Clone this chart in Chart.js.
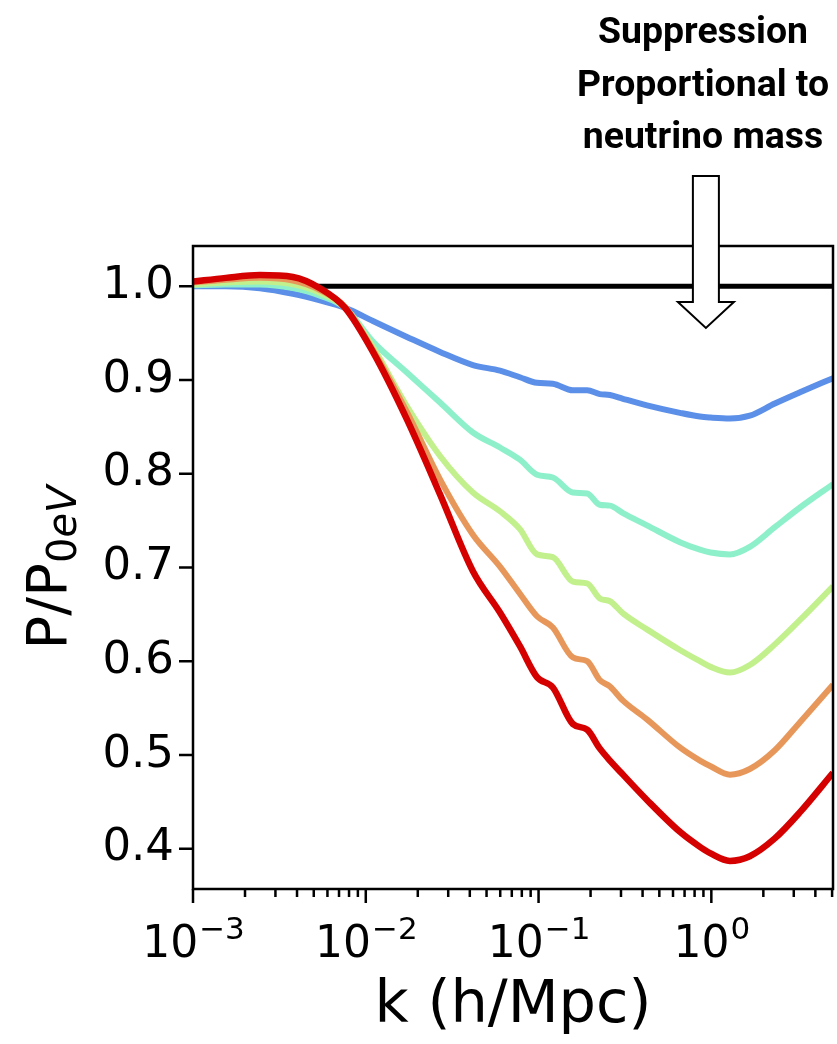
<!DOCTYPE html>
<html lang="en">
<head>
  <meta charset="UTF-8">
  <title>Power spectrum suppression by neutrino mass</title>
  <script src="https://cdn.jsdelivr.net/npm/chart.js"></script>
  <style>
    html, body { margin: 0; padding: 0; background: #fff; }
    #wrap { width: 837px; height: 1044px; }
  </style>
</head>
<body>
  <div id="wrap"><canvas id="ratioChart" width="837" height="1044"></canvas></div>
  <script>
    // k grid (h/Mpc)
    const kValues = [0.001, 0.00155, 0.00244, 0.00379, 0.00543, 0.00759, 0.0110, 0.0173, 0.0269, 0.0417,
      0.0598, 0.0780, 0.0979, 0.121, 0.158, 0.191, 0.226, 0.259, 0.308, 0.424,
      0.658, 0.859, 0.99, 1.28, 1.67, 2.33, 3.26, 5.06];

    // P/P_0eV for increasing neutrino mass (blue -> red)
    const ratioBlue = [1.000, 1.000, 0.998, 0.992, 0.985, 0.977, 0.963, 0.946, 0.930, 0.916,
      0.910, 0.903, 0.897, 0.896, 0.889, 0.889, 0.885, 0.884, 0.880, 0.873,
      0.865, 0.861, 0.860, 0.859, 0.862, 0.875, 0.887, 0.902];
    const ratioTeal = [1.001, 1.002, 1.002, 0.998, 0.990, 0.977, 0.941, 0.908, 0.876, 0.844,
      0.828, 0.815, 0.799, 0.796, 0.780, 0.779, 0.767, 0.766, 0.758, 0.745,
      0.727, 0.719, 0.716, 0.714, 0.722, 0.743, 0.764, 0.789];
    const ratioGreen = [1.002, 1.004, 1.005, 1.002, 0.993, 0.977, 0.935, 0.872, 0.819, 0.780,
      0.760, 0.741, 0.714, 0.711, 0.685, 0.683, 0.667, 0.664, 0.651, 0.634,
      0.612, 0.600, 0.594, 0.588, 0.596, 0.618, 0.644, 0.680];
    const ratioOrange = [1.004, 1.007, 1.009, 1.006, 0.996, 0.978, 0.932, 0.866, 0.794, 0.735,
      0.701, 0.672, 0.648, 0.636, 0.604, 0.600, 0.580, 0.573, 0.558, 0.538,
      0.508, 0.494, 0.488, 0.479, 0.485, 0.505, 0.535, 0.575];
    const ratioRed = [1.005, 1.009, 1.012, 1.010, 0.998, 0.977, 0.930, 0.858, 0.778, 0.696,
      0.652, 0.616, 0.583, 0.572, 0.533, 0.527, 0.507, 0.494, 0.479, 0.452,
      0.418, 0.402, 0.395, 0.387, 0.392, 0.411, 0.439, 0.481];

    // the massless reference line
    const refK = [0.001, 5.06];
    const refRatio = [1.0, 1.0];

    const xMajorTicks = [0.001, 0.01, 0.1, 1];
    const xMajorExponents = ['\u22123', '\u22122', '\u22121', '0'];
    const xMinorTicks = [0.002, 0.003, 0.004, 0.005, 0.006, 0.007, 0.008, 0.009,
      0.02, 0.03, 0.04, 0.05, 0.06, 0.07, 0.08, 0.09,
      0.2, 0.3, 0.4, 0.5, 0.6, 0.7, 0.8, 0.9,
      2, 3, 4, 5];
    const yTicks = [0.4, 0.5, 0.6, 0.7, 0.8, 0.9, 1.0];

    const noteLines = ['Suppression', 'Proportional to', 'neutrino mass'];
    const arrowK = 0.93;

    const toPoints = (ks, vs) => ks.map((k, i) => ({ x: k, y: vs[i] }));

    function curve(data, color, width) {
      return {
        data: data,
        borderColor: color,
        borderWidth: width,
        pointRadius: 0,
        fill: false,
        cubicInterpolationMode: 'monotone'
      };
    }

    // ticks, frame, x labels, y title and the annotation are drawn on top
    const overlay = {
      id: 'overlay',
      afterDraw(chart) {
        const { ctx, chartArea: a, scales: { x, y } } = chart;
        ctx.save();

        // frame
        ctx.strokeStyle = '#000';
        ctx.lineWidth = 2.5;
        ctx.strokeRect(a.left, a.top, a.right - a.left, a.bottom - a.top);

        // tick marks
        ctx.beginPath();
        xMajorTicks.forEach(v => {
          const px = x.getPixelForValue(v);
          ctx.moveTo(px, a.bottom); ctx.lineTo(px, a.bottom + 14);
        });
        xMinorTicks.forEach(v => {
          const px = x.getPixelForValue(v);
          ctx.moveTo(px, a.bottom); ctx.lineTo(px, a.bottom + 8);
        });
        yTicks.forEach(v => {
          const py = y.getPixelForValue(v);
          ctx.moveTo(a.left, py); ctx.lineTo(a.left - 14, py);
        });
        ctx.stroke();

        // x tick labels 10^n
        ctx.fillStyle = '#000';
        ctx.textAlign = 'left';
        ctx.textBaseline = 'alphabetic';
        xMajorTicks.forEach((v, i) => {
          const px = x.getPixelForValue(v);
          ctx.font = '44px "DejaVu Sans"';
          const wb = ctx.measureText('10').width;
          ctx.font = '31px "DejaVu Sans"';
          const we = ctx.measureText(xMajorExponents[i]).width;
          const left = px - (wb + we) / 2;
          ctx.font = '44px "DejaVu Sans"';
          ctx.fillText('10', left, a.bottom + 68);
          ctx.font = '31px "DejaVu Sans"';
          ctx.fillText(xMajorExponents[i], left + wb + 1, a.bottom + 50);
        });

        // y title P/P_0eV
        ctx.save();
        ctx.translate(46, (a.top + a.bottom) / 2);
        ctx.rotate(-Math.PI / 2);
        const big = '56px "DejaVu Sans"';
        const sub0 = '40px "DejaVu Sans"';
        const subIt = 'oblique 40px "DejaVu Sans"';
        ctx.font = big; const wMain = ctx.measureText('P/P').width;
        ctx.font = sub0; const w0 = ctx.measureText('0').width;
        ctx.font = subIt; const wEv = ctx.measureText('eV').width;
        let tx = -(wMain + w0 + wEv) / 2;
        const base = 20;
        ctx.font = big; ctx.fillText('P/P', tx, base); tx += wMain;
        ctx.font = sub0; ctx.fillText('0', tx, base + 10); tx += w0;
        ctx.font = subIt; ctx.fillText('eV', tx, base + 10);
        ctx.restore();

        // arrow
        const ax = x.getPixelForValue(arrowK);
        ctx.beginPath();
        ctx.moveTo(ax - 13, 176);
        ctx.lineTo(ax + 13, 176);
        ctx.lineTo(ax + 13, 302);
        ctx.lineTo(ax + 28, 302);
        ctx.lineTo(ax, 328);
        ctx.lineTo(ax - 28, 302);
        ctx.lineTo(ax - 13, 302);
        ctx.closePath();
        ctx.fillStyle = '#fff';
        ctx.fill();
        ctx.lineWidth = 2;
        ctx.strokeStyle = '#000';
        ctx.stroke();

        // annotation text, bold and narrowed
        ctx.font = 'bold 37px Roboto';
        ctx.fillStyle = '#000';
        ctx.textAlign = 'center';
        const squeeze = 210 / ctx.measureText(noteLines[0]).width;
        const baselines = [43, 96, 148];
        noteLines.forEach((line, i) => {
          ctx.save();
          ctx.translate(703, baselines[i]);
          ctx.scale(squeeze, 1);
          ctx.fillText(line, 0, 0);
          ctx.restore();
        });

        ctx.restore();
      }
    };

    const ctx = document.getElementById('ratioChart').getContext('2d');
    new Chart(ctx, {
      type: 'line',
      data: {
        datasets: [
          curve(toPoints(kValues, ratioRed), '#d50000', 6.5),
          curve(toPoints(kValues, ratioOrange), '#e8975a', 6),
          curve(toPoints(kValues, ratioGreen), '#c2f08c', 6),
          curve(toPoints(kValues, ratioTeal), '#8ef0cb', 6),
          curve(toPoints(kValues, ratioBlue), '#5b8fe8', 6),
          curve(toPoints(refK, refRatio), '#000000', 5)
        ]
      },
      options: {
        responsive: false,
        animation: false,
        devicePixelRatio: 1,
        layout: { padding: { top: 246, right: 4, left: 0, bottom: 0 } },
        plugins: { legend: { display: false }, tooltip: { enabled: false } },
        scales: {
          x: {
            type: 'logarithmic',
            min: 0.001,
            max: 5.06,
            border: { display: false },
            grid: { display: false },
            afterBuildTicks: s => { s.ticks = xMajorTicks.map(v => ({ value: v, major: true })); },
            afterFit: s => { s.height = 155; },
            ticks: { display: false },
            title: {
              display: true,
              text: 'k (h/Mpc)',
              color: '#000',
              font: { family: 'DejaVu Sans', size: 59 },
              padding: { top: 0, bottom: 2 }
            }
          },
          y: {
            type: 'linear',
            min: 0.357,
            max: 1.043,
            border: { display: false },
            grid: { display: false, drawTicks: true, tickLength: 14 },
            afterBuildTicks: s => { s.ticks = yTicks.map(v => ({ value: v })); },
            afterFit: s => { s.width = 193; },
            ticks: {
              padding: 5,
              color: '#000',
              font: { family: 'DejaVu Sans', size: 45 },
              callback: v => v.toFixed(1)
            }
          }
        }
      },
      plugins: [overlay]
    });
  </script>
</body>
</html>
